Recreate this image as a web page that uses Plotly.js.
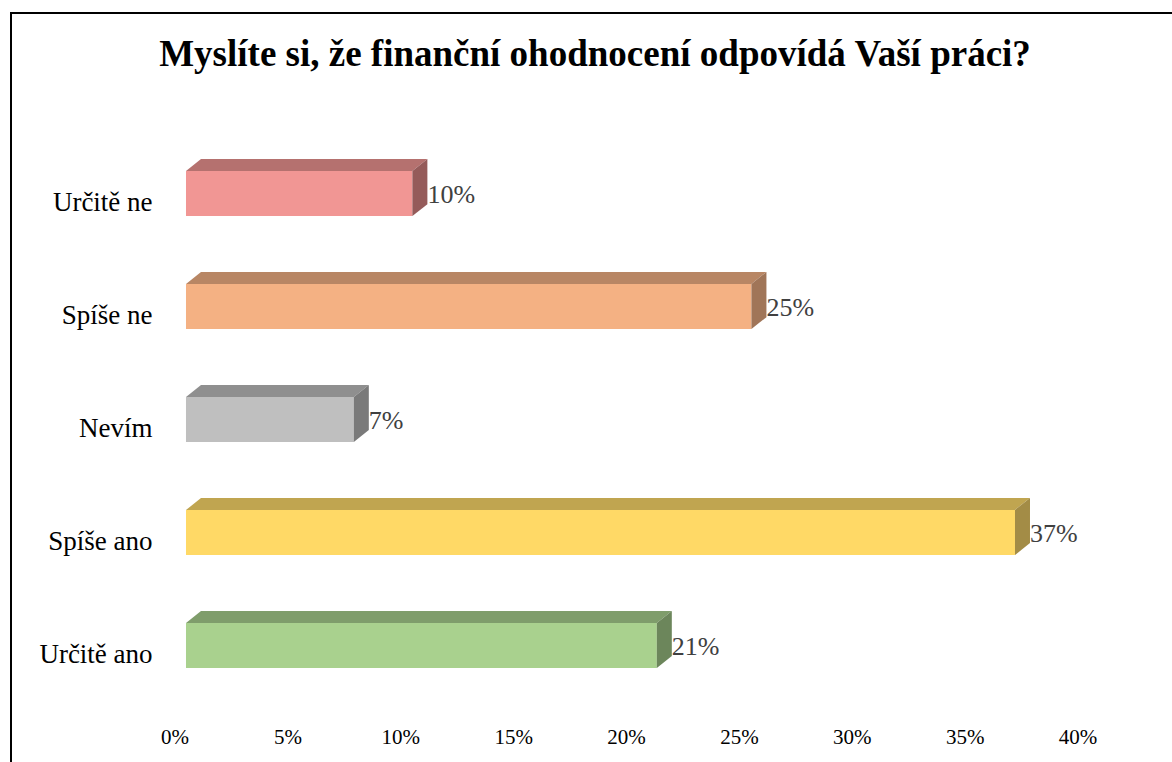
<!DOCTYPE html>
<html>
<head>
<meta charset="utf-8">
<script src="https://cdn.plot.ly/plotly-3.0.1.min.js"></script>
<style>
  html, body { margin: 0; padding: 0; background: #fff; }
  #wrap { position: relative; width: 1172px; height: 762px; overflow: hidden; }
  #chart { width: 1172px; height: 762px; }
  #frame { position: absolute; left: 10px; top: 12px; width: 1200px; height: 800px;
           border-left: 2px solid #000; border-top: 2px solid #000; pointer-events: none; }
</style>
</head>
<body>
<div id="wrap">
  <div id="chart"></div>
  <div id="frame"></div>
</div>
<script>
// ---- data (bottom to top) ----
const categories = ["Určitě ano", "Spíše ano", "Nevím", "Spíše ne", "Určitě ne"];
const values = [20.9, 36.8, 7.45, 25.1, 10.05];
const valueLabels = ["21%", "37%", "7%", "25%", "10%"];
const tickValues = [0, 5, 10, 15, 20, 25, 30, 35, 40];
const tickLabels = ["0%", "5%", "10%", "15%", "20%", "25%", "30%", "35%", "40%"];

// ---- styles ----
const frontColors = ["#A9D18E", "#FFD966", "#BFBFBF", "#F4B183", "#F19694"];
const topColors   = ["#7F9D6B", "#C0A550", "#8F8F8F", "#B88664", "#B5716F"];
const sideColors  = ["#6C865B", "#A38C46", "#7A7A7A", "#A07558", "#955B5A"];
const serif = "'Liberation Serif', 'Times New Roman', serif";
const barH = 0.40;     // bar thickness (category units)
const depthX = 0.666;  // 3D depth offset in x (axis units)
const depthY = 0.106;  // 3D depth offset in y (category units)
const labelDy = -0.025;

const pos = categories.map((c, i) => i);
const traces = [];

// front faces
traces.push({
  type: "bar", orientation: "h",
  x: values, y: pos, base: 0, width: barH,
  marker: { color: frontColors, line: { width: 0 } },
  xaxis: "x", yaxis: "y", hoverinfo: "skip", showlegend: false
});

// top & side faces built from the data values
values.forEach((v, i) => {
  const y0 = pos[i] - barH / 2, y1 = pos[i] + barH / 2;
  traces.push({
    type: "scatter", mode: "lines", fill: "toself",
    x: [0, depthX, v + depthX, v, 0],
    y: [y1, y1 + depthY, y1 + depthY, y1, y1],
    fillcolor: topColors[i], line: { width: 0, color: topColors[i] },
    xaxis: "x", yaxis: "y", hoverinfo: "skip", showlegend: false
  });
  traces.push({
    type: "scatter", mode: "lines", fill: "toself",
    x: [v, v + depthX, v + depthX, v, v],
    y: [y1, y1 + depthY, y0 + depthY, y0, y1],
    fillcolor: sideColors[i], line: { width: 0, color: sideColors[i] },
    xaxis: "x", yaxis: "y", hoverinfo: "skip", showlegend: false
  });
});

// value labels
traces.push({
  type: "scatter", mode: "text",
  x: values.map(v => v + depthX), y: pos.map(p => p + labelDy),
  text: valueLabels, textposition: "middle right",
  textfont: { family: serif, size: 26, color: "#404040" },
  xaxis: "x", yaxis: "y", hoverinfo: "skip", showlegend: false, cliponaxis: false
});

// tick-label axis carrier (no visible marks)
traces.push({
  type: "scatter", mode: "markers", x: [], y: [],
  xaxis: "x2", yaxis: "y", hoverinfo: "skip", showlegend: false
});

const layout = {
  width: 1172, height: 762,
  margin: { l: 175, r: 94, t: 130, b: 40 },
  paper_bgcolor: "#ffffff", plot_bgcolor: "rgba(0,0,0,0)",
  showlegend: false,
  title: {
    text: "<b>Myslíte si, že finanční ohodnocení odpovídá Vaší práci?</b>",
    font: { family: serif, size: 37, color: "#000000" },
    xref: "container", x: 0.5077, xanchor: "center",
    yref: "container", y: 0.930, yanchor: "middle"
  },
  xaxis: {
    range: [-0.488, 39.597], visible: false, fixedrange: true
  },
  xaxis2: {
    overlaying: "x", anchor: "y", side: "bottom",
    range: [0, 40], tickvals: tickValues, ticktext: tickLabels,
    showgrid: false, zeroline: false, showline: false, ticks: "",
    tickfont: { family: serif, size: 21, color: "#000000" }, fixedrange: true
  },
  yaxis: {
    range: [-0.677, 4.562],
    tickvals: pos, ticktext: categories,
    showgrid: false, zeroline: false, showline: false,
    ticks: "outside", ticklen: 16, tickcolor: "rgba(0,0,0,0)",
    ticklabelshift: 8,
    tickfont: { family: serif, size: 27, color: "#000000" }, fixedrange: true
  }
};

Plotly.newPlot("chart", traces, layout, { displayModeBar: false, staticPlot: true });
</script>
</body>
</html>
